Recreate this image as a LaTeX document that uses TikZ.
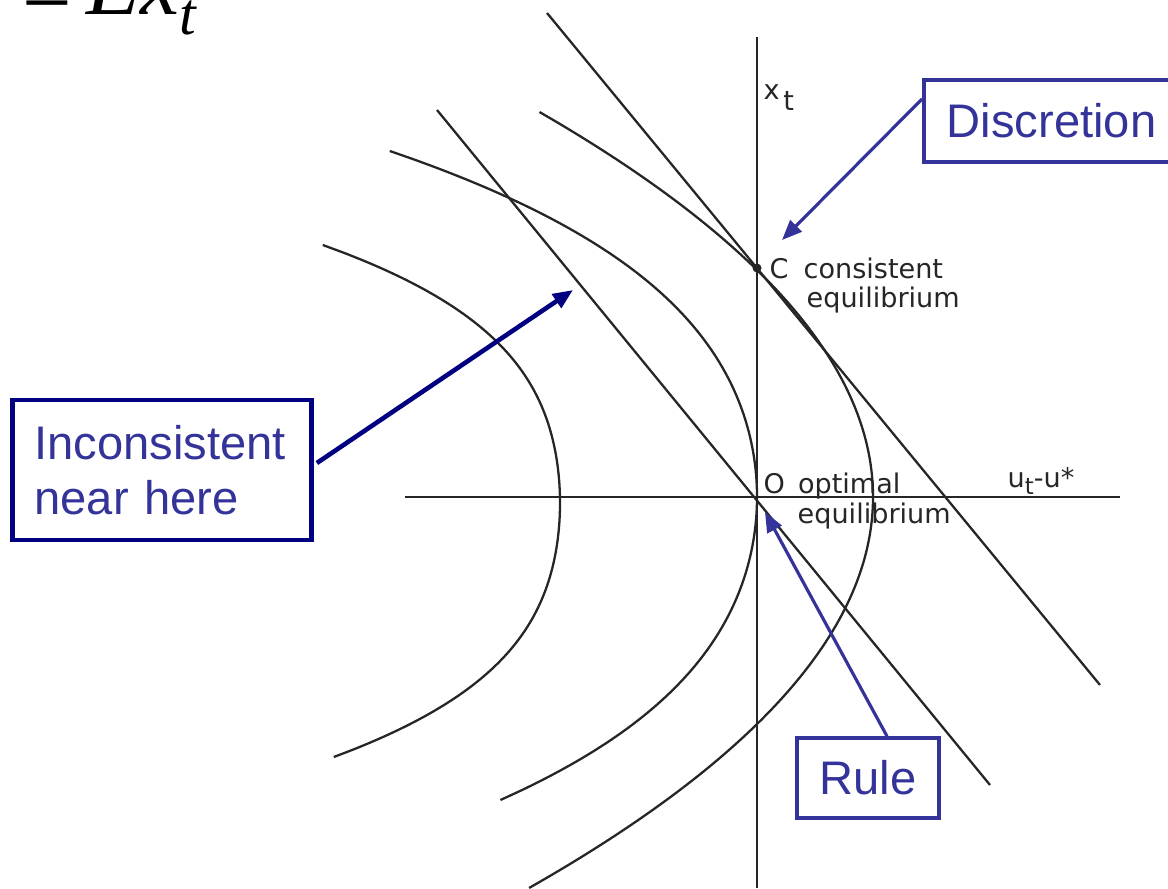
\documentclass[tikz,border=0pt]{standalone}
\usepackage{fontspec}
\setmainfont{Liberation Sans}
\newfontfamily\scanfont{DejaVu Sans}
\newfontfamily\slidemath{Liberation Serif}
\usetikzlibrary{arrows.meta, positioning, calc}
\definecolor{textBlue}{HTML}{333399}
\definecolor{frameBlue}{HTML}{333399}
\definecolor{navyBlue}{HTML}{000080}
\definecolor{inkColor}{HTML}{262626}

\begin{document}
\begin{tikzpicture}[
    x=0.01cm, y=-0.01cm,
    ink/.style={draw=inkColor, line width=0.65pt},
    callout/.style={draw=frameBlue, line width=1pt, text=textBlue, font=\fontsize{13.4}{15.5}\selectfont, align=left, inner ysep=0pt},
    pointer/.style={-{Triangle[length=0.2cm, width=0.16cm]}, draw=frameBlue, line width=0.9pt},
    scanText/.style={font=\scanfont\fontsize{7.7}{9}\selectfont, text=inkColor, anchor=base west, inner sep=0pt}
]
\useasboundingbox (0,0) rectangle (1168,888);

\coordinate (O) at (757,497);
\coordinate (C) at (757,268);
\coordinate (xTop) at (757,37);
\coordinate (xBot) at (757,888);
\coordinate (uLeft) at (405,497);
\coordinate (uRight) at (1120,497);
\coordinate (discTop) at (547,13);
\coordinate (discBot) at (1100,685);
\coordinate (ruleTop) at (437,110);
\coordinate (ruleBot) at (990,785);

\draw[ink] (xBot) -- (xTop);
\draw[ink] (uLeft) -- (uRight);
\draw[ink] (discTop) -- (discBot);
\draw[ink] (ruleTop) -- (ruleBot);

% loss contours, x measured from the vertex
\draw[ink] plot[domain=-2.58:2.54, samples=60, smooth] ({560 - 17*\x*\x - 2.8*\x*\x*\x*\x}, {503 + 100*\x});
\draw[ink] plot[domain=-3.46:3.03, samples=70, smooth] ({757 - 19*\x*\x - 0.975*\x*\x*\x*\x}, {497 + 100*\x});
\draw[ink] plot[domain=-3.85:3.91, samples=70, smooth] ({873 - 22.5*\x*\x}, {497 + 100*\x});

\fill[inkColor] (C) circle[radius=0.045cm];

\node[scanText] (xtLabel) at (763,100) {x\kern1pt\raisebox{-3pt}{t}};
\node[scanText] (cLabel) at (769,278) {C\hspace{0.15cm}consistent};
\node[scanText] (cLabelB) at (806,307) {equilibrium};
\node[scanText] (oLabel) at (763,493) {O\hspace{0.13cm}optimal};
\node[scanText] (oLabelB) at (797,523) {equilibrium};
\node[scanText] (uLabel) at (1007,487) {u\raisebox{-2pt}{\fontsize{6.5}{6.5}\selectfont t}-u*};

\node[anchor=base west, inner sep=0pt, font=\slidemath\fontsize{25}{25}\selectfont] (eqHead) at (22,15) {\raisebox{-2.5pt}{=}\,\textit{Ex}\raisebox{-5.5pt}{\fontsize{17}{17}\selectfont\itshape t}};

\node[callout, anchor=west, text width=2.1cm, minimum height=0.82cm, inner xsep=0.23cm] (discretion) at (922,121) {Discretion};
\node[callout, draw=navyBlue, line width=1.3pt, text width=2.55cm, minimum height=1.4cm, inner xsep=0.22cm] (inconsistent) at (162,470) {Inconsistent\\near here};
\node[callout, minimum width=1.42cm, minimum height=0.8cm] (rule) at (868,778) {Rule};

\coordinate (discTip) at (782,240);
\coordinate (nearHere) at (573,290);
\coordinate (ruleTip) at (765,512);

\draw[pointer] ($(discretion.west)+(0,-22)$) -- (discTip);
\draw[pointer, draw=navyBlue, line width=1.3pt] ($(inconsistent.east)+(3,-7)$) -- (nearHere);
\draw[pointer] ($(rule.north)+(19,0)$) -- (ruleTip);

\end{tikzpicture}
\end{document}
